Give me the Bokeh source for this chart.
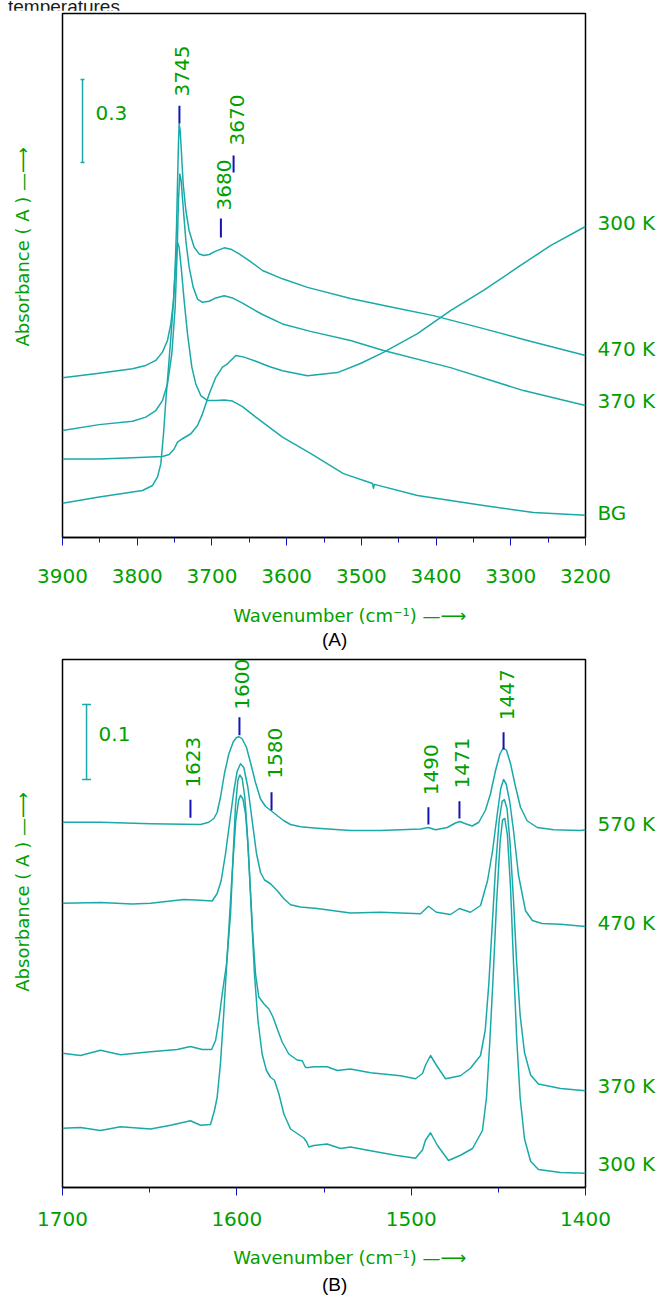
from bokeh.plotting import figure
from bokeh.models import Range1d, SingleIntervalTicker, FixedTicker, Label, Div, LinearAxis
from bokeh.layouts import column
from bokeh.embed import file_html
from bokeh.resources import INLINE

# ---------------- Panel A data (wavenumber / cm-1, absorbance) ----------------
a_wn_470 = [3900, 3850.9, 3806.3, 3788.5, 3775.1, 3766.2, 3759.5, 3755.0, 3751.4, 3749.2, 3747.4, 3746.1,
            3744.8, 3743.9, 3742.5, 3740.7, 3738.5, 3734.9, 3730.5, 3723.8, 3717.1, 3710.4, 3703.7,
            3694.8, 3683.6, 3674.7, 3663.6, 3650.2, 3632.3, 3605.6, 3572.1, 3514.5, 3457.0, 3403.5,
            3336.5, 3277.7, 3200]
a_ab_470 = [0.577, 0.594, 0.610, 0.622, 0.640, 0.670, 0.712, 0.772, 0.857, 0.977, 1.122, 1.278,
            1.423, 1.495, 1.471, 1.387, 1.278, 1.182, 1.109, 1.049, 1.025, 1.019, 1.023,
            1.035, 1.047, 1.042, 1.025, 1.001, 0.965, 0.935, 0.904, 0.864, 0.831, 0.802,
            0.755, 0.712, 0.658]

a_wn_370 = [3900, 3850.9, 3806.3, 3788.5, 3775.1, 3766.2, 3759.5, 3753.7, 3749.2, 3746.5, 3744.8, 3743.0,
            3741.2, 3738.5, 3734.9, 3730.5, 3725.1, 3719.3, 3712.6, 3703.7, 3694.8, 3683.6, 3672.5,
            3659.1, 3645.7, 3632.3, 3605.6, 3568.1, 3514.5, 3470.4, 3380.7, 3283.0, 3200]
a_ab_370 = [0.387, 0.408, 0.420, 0.435, 0.459, 0.495, 0.555, 0.664, 0.832, 1.037, 1.218, 1.314,
            1.290, 1.194, 1.073, 0.977, 0.905, 0.862, 0.850, 0.854, 0.866, 0.874, 0.866,
            0.847, 0.826, 0.806, 0.772, 0.745, 0.712, 0.676, 0.614, 0.531, 0.477]

a_wn_300 = [3900, 3850.9, 3806.3, 3766.2, 3757.2, 3750.6, 3746.1, 3739.4, 3728.2, 3719.3, 3712.6, 3703.7,
            3694.8, 3685.9, 3679.2, 3668.0, 3656.9, 3641.3, 3623.4, 3605.6, 3572.1, 3531.9, 3501.2,
            3470.4, 3424.9, 3380.7, 3336.5, 3291.0, 3246.9, 3200]
a_ab_300 = [0.284, 0.284, 0.288, 0.293, 0.300, 0.320, 0.345, 0.357, 0.375, 0.405, 0.447, 0.519,
            0.579, 0.616, 0.628, 0.658, 0.652, 0.637, 0.618, 0.603, 0.585, 0.596, 0.629,
            0.669, 0.737, 0.820, 0.893, 0.976, 1.055, 1.124]

a_wn_bg = [3900, 3850.9, 3792.9, 3779.5, 3772.9, 3768.4, 3764.8, 3761.7, 3758.1, 3754.6, 3751.4, 3748.3,
           3746.1, 3743.9, 3741.2, 3737.2, 3732.7, 3726.9, 3721.6, 3714.9, 3705.9, 3694.8, 3683.6,
           3672.5, 3659.1, 3641.3, 3623.4, 3605.6, 3568.1, 3524.0, 3485.0, 3483.8, 3482.5, 3424.9,
           3336.5, 3269.6, 3200]
a_ab_bg = [0.124, 0.146, 0.170, 0.188, 0.218, 0.266, 0.375, 0.495, 0.616, 0.736, 0.857, 1.001,
           1.067, 1.049, 0.977, 0.857, 0.736, 0.616, 0.555, 0.513, 0.495, 0.495, 0.497,
           0.493, 0.473, 0.435, 0.399, 0.363, 0.304, 0.231, 0.195, 0.178, 0.192, 0.152,
           0.116, 0.090, 0.080]

a_series = [("300 K", a_wn_300, a_ab_300), ("470 K", a_wn_470, a_ab_470),
            ("370 K", a_wn_370, a_ab_370), ("BG", a_wn_bg, a_ab_bg)]
a_end_labels = ["300 K", "470 K", "370 K", "BG"]
a_end_label_y = [1.135, 0.683, 0.495, 0.087]

a_peak_labels = ["3745", "3680", "3670"]
a_peak_x = [3743.5, 3688, 3671]
a_peak_y0 = [1.496, 1.084, 1.319]
a_peak_y1 = [1.561, 1.153, 1.381]
a_peak_ly = [1.594, 1.182, 1.417]

# ---------------- Panel B data ----------------
b_wn_570 = [1700, 1678.2, 1649.5, 1620.8, 1616.1, 1613.2, 1611.3, 1609.4, 1607.1, 1604.6, 1602.1, 1600.2,
            1598.7, 1596.9, 1594.5, 1592.2, 1589.3, 1586.4, 1583.5, 1580.7, 1576.9, 1573.0, 1569.2,
            1563.5, 1553.9, 1534.8, 1517.6, 1506.1, 1494.6, 1490.2, 1486.0, 1479.3, 1474.6, 1472.1,
            1468.8, 1465.0, 1461.2, 1457.4, 1454.5, 1451.6, 1449.1, 1447.2, 1445.3, 1443.0, 1440.1,
            1437.3, 1433.5, 1427.7, 1418.2, 1402.9, 1400]
b_ab_570 = [0.487, 0.487, 0.485, 0.484, 0.487, 0.492, 0.500, 0.520, 0.552, 0.578, 0.594, 0.600,
            0.601, 0.598, 0.587, 0.567, 0.540, 0.518, 0.508, 0.503, 0.496, 0.489, 0.484,
            0.481, 0.479, 0.476, 0.476, 0.477, 0.478, 0.480, 0.477, 0.480, 0.486, 0.488,
            0.485, 0.482, 0.487, 0.503, 0.525, 0.556, 0.578, 0.586, 0.583, 0.565, 0.534,
            0.507, 0.489, 0.480, 0.477, 0.476, 0.477]

b_wn_470 = [1700, 1678.2, 1660.0, 1649.5, 1630.4, 1620.8, 1614.1, 1611.3, 1609.0, 1606.5, 1604.0, 1601.7,
            1599.8, 1597.9, 1596.0, 1593.7, 1591.2, 1588.7, 1586.4, 1584.1, 1580.7, 1576.9, 1573.0,
            1569.2, 1563.5, 1553.9, 1534.8, 1517.6, 1494.6, 1490.1, 1485.5, 1477.4, 1472.3, 1466.0,
            1460.2, 1456.2, 1453.3, 1450.5, 1448.6, 1447.0, 1445.5, 1443.5, 1441.3, 1438.4, 1434.4,
            1430.5, 1425.0, 1414.3, 1400]
b_ab_470 = [0.379, 0.380, 0.378, 0.379, 0.384, 0.383, 0.382, 0.392, 0.409, 0.445, 0.489, 0.529,
            0.555, 0.565, 0.560, 0.534, 0.489, 0.445, 0.420, 0.410, 0.405, 0.396, 0.385,
            0.377, 0.374, 0.372, 0.366, 0.367, 0.365, 0.375, 0.367, 0.364, 0.372, 0.367,
            0.376, 0.409, 0.449, 0.500, 0.532, 0.544, 0.538, 0.515, 0.476, 0.416, 0.369,
            0.356, 0.352, 0.351, 0.348]

b_wn_370 = [1700, 1689.7, 1678.2, 1666.7, 1649.5, 1634.2, 1626.6, 1619.9, 1614.5, 1612.2, 1610.3, 1608.4,
            1605.9, 1603.6, 1602.1, 1600.8, 1599.4, 1598.3, 1596.9, 1595.4, 1594.1, 1592.5, 1591.0,
            1589.3, 1587.4, 1584.5, 1581.6, 1579.2, 1576.9, 1574.0, 1570.2, 1565.4, 1562.5, 1560.6,
            1558.7, 1555.8, 1548.2, 1542.4, 1534.8, 1523.3, 1506.1, 1497.5, 1493.5, 1491.8, 1488.9,
            1485.5, 1480.3, 1471.7, 1466.0, 1460.2, 1457.5, 1455.5, 1453.5, 1451.5, 1449.5, 1447.8,
            1446.5, 1445.0, 1443.3, 1441.3, 1439.5, 1437.5, 1435.0, 1431.5, 1427.0, 1414.3, 1400]
b_ab_370 = [0.179, 0.176, 0.183, 0.177, 0.181, 0.184, 0.188, 0.184, 0.184, 0.196, 0.223, 0.258,
            0.298, 0.365, 0.445, 0.507, 0.543, 0.550, 0.545, 0.520, 0.476, 0.409, 0.343,
            0.285, 0.254, 0.245, 0.238, 0.227, 0.212, 0.194, 0.178, 0.170, 0.169, 0.160,
            0.160, 0.161, 0.161, 0.156, 0.158, 0.153, 0.149, 0.145, 0.152, 0.163, 0.176,
            0.163, 0.145, 0.149, 0.159, 0.176, 0.210, 0.270, 0.350, 0.430, 0.490, 0.515,
            0.517, 0.505, 0.460, 0.383, 0.300, 0.230, 0.180, 0.150, 0.138, 0.132, 0.129]

b_wn_300 = [1700, 1689.7, 1678.2, 1666.7, 1649.5, 1638.0, 1626.6, 1620.8, 1615.1, 1612.8, 1611.3, 1609.4,
            1607.5, 1605.2, 1602.7, 1600.6, 1599.0, 1597.9, 1596.5, 1595.0, 1593.5, 1591.8, 1589.9,
            1587.9, 1585.5, 1583.0, 1580.7, 1578.4, 1575.9, 1573.0, 1569.2, 1565.4, 1561.6, 1560.0,
            1558.7, 1555.8, 1548.2, 1540.5, 1534.8, 1523.3, 1509.0, 1497.5, 1493.5, 1491.8, 1488.9,
            1484.9, 1478.6, 1471.7, 1464.8, 1459.1, 1456.8, 1455.0, 1453.0, 1451.0, 1449.0, 1447.6,
            1446.3, 1444.8, 1443.0, 1441.3, 1439.5, 1437.5, 1435.0, 1431.5, 1427.0, 1414.3, 1400]
b_ab_300 = [0.079, 0.080, 0.076, 0.081, 0.078, 0.083, 0.089, 0.083, 0.084, 0.103, 0.120, 0.165,
            0.232, 0.321, 0.418, 0.489, 0.516, 0.523, 0.518, 0.498, 0.454, 0.374, 0.285,
            0.223, 0.178, 0.156, 0.147, 0.143, 0.125, 0.098, 0.078, 0.072, 0.066, 0.061,
            0.054, 0.056, 0.058, 0.052, 0.054, 0.049, 0.043, 0.039, 0.050, 0.063, 0.073,
            0.056, 0.036, 0.043, 0.052, 0.076, 0.120, 0.190, 0.280, 0.380, 0.460, 0.490,
            0.492, 0.470, 0.400, 0.300, 0.200, 0.120, 0.065, 0.035, 0.024, 0.020, 0.019]

b_series = [("570 K", b_wn_570, b_ab_570), ("470 K", b_wn_470, b_ab_470),
            ("370 K", b_wn_370, b_ab_370), ("300 K", b_wn_300, b_ab_300)]
b_end_labels = ["570 K", "470 K", "370 K", "300 K"]
b_end_label_y = [0.485, 0.353, 0.136, 0.031]

b_peak_labels = ["1623", "1600", "1580", "1490", "1471", "1447"]
b_peak_x = [1626.6, 1598.5, 1580.1, 1490.1, 1472.3, 1447.0]
b_peak_y0 = [0.493, 0.603, 0.503, 0.484, 0.492, 0.584]
b_peak_y1 = [0.517, 0.627, 0.527, 0.507, 0.515, 0.607]
b_peak_ly = [0.533, 0.637, 0.545, 0.523, 0.532, 0.623]

# ---------------- styling ----------------
GREEN = "#00a000"
TEAL = "#1aa9a9"
BLUE = "#1414b4"
FONT = "DejaVu Sans"
NB = "\u00a0"
ARROW = "\u2014\u27f6"


def make_panel(x0, x1, ymax, height, border_top, border_bottom, series, end_labels, end_y,
               pk_lab, pk_x, pk_y0, pk_y1, pk_ly, bar_x, bar_y0, bar_y1, bar_cap, bar_text,
               bar_text_x, bar_text_y, ylab_pad, panel_text, label_standoff, title_standoff,
               panel_standoff):
    p = figure(width=663, height=height, x_range=Range1d(x0, x1), y_range=Range1d(0, ymax),
               output_backend="svg", toolbar_location=None, min_border_left=62,
               min_border_right=78, min_border_top=border_top, min_border_bottom=border_bottom)
    p.xgrid.visible = False
    p.ygrid.visible = False
    p.outline_line_color = "black"
    p.outline_line_width = 1.5
    p.background_fill_color = "white"
    p.border_fill_color = "white"

    # bottom axis
    ax = p.xaxis[0]
    ax.ticker = SingleIntervalTicker(interval=100, num_minor_ticks=2)
    ax.axis_line_color = "black"
    ax.axis_line_width = 1.5
    ax.major_tick_line_color = BLUE
    ax.minor_tick_line_color = BLUE
    ax.major_tick_out = 8
    ax.major_tick_in = 0
    ax.minor_tick_out = 5
    ax.minor_tick_in = 0
    ax.major_label_text_font = FONT
    ax.major_label_text_font_size = "20px"
    ax.major_label_text_color = GREEN
    ax.major_label_standoff = label_standoff
    ax.axis_label = NB * 9 + "Wavenumber (cm\u207b\u00b9) " + ARROW
    ax.axis_label_text_font = FONT
    ax.axis_label_text_font_size = "18px"
    ax.axis_label_text_font_style = "normal"
    ax.axis_label_text_color = GREEN
    ax.axis_label_standoff = title_standoff

    # panel letter as a second, bare bottom axis
    pax = LinearAxis(ticker=FixedTicker(ticks=[]), axis_line_color=None,
                     major_tick_line_color=None, minor_tick_line_color=None,
                     major_label_standoff=0, axis_label=NB * 4 + panel_text,
                     axis_label_text_font="Liberation Sans", axis_label_text_font_size="19px",
                     axis_label_text_font_style="normal", axis_label_text_color="black",
                     axis_label_standoff=panel_standoff)
    p.add_layout(pax, "below")

    # left axis: only its title
    ly = p.yaxis[0]
    ly.ticker = FixedTicker(ticks=[])
    ly.axis_line_color = None
    ly.major_tick_line_color = None
    ly.minor_tick_line_color = None
    ly.major_label_standoff = 0
    ly.axis_label = NB * ylab_pad + "Absorbance ( A ) " + ARROW
    ly.axis_label_text_font = FONT
    ly.axis_label_text_font_size = "18px"
    ly.axis_label_text_font_style = "normal"
    ly.axis_label_text_color = GREEN
    ly.axis_label_standoff = 30

    # right axis: curve names at their end levels
    rax = LinearAxis(ticker=FixedTicker(ticks=end_y),
                     major_label_overrides={float(y): lab for y, lab in zip(end_y, end_labels)},
                     axis_line_color=None, major_tick_line_color=None, minor_tick_line_color=None,
                     major_tick_out=0, major_tick_in=0, minor_tick_out=0, minor_tick_in=0,
                     major_label_standoff=12, major_label_text_font=FONT,
                     major_label_text_font_size="20px", major_label_text_color=GREEN)
    p.add_layout(rax, "right")

    for name, xs, ys in series:
        p.line(xs, ys, line_color=TEAL, line_width=1.5, line_join="round")

    # peak markers
    p.segment(x0=pk_x, y0=pk_y0, x1=pk_x, y1=pk_y1, line_color=BLUE, line_width=2)
    for lab, x, yl in zip(pk_lab, pk_x, pk_ly):
        p.add_layout(Label(x=x, y=yl, text=lab, angle=90, angle_units="deg", x_offset=3,
                           text_align="left", text_baseline="middle", text_font=FONT,
                           text_font_size="20px", text_color=GREEN))

    # scale bar
    p.segment(x0=[bar_x], y0=[bar_y0], x1=[bar_x], y1=[bar_y1], line_color=TEAL, line_width=1.5)
    p.scatter([bar_x, bar_x], [bar_y0, bar_y1], marker="dash", size=bar_cap, line_color=TEAL,
              line_width=1.5)
    p.add_layout(Label(x=bar_text_x, y=bar_text_y, text=bar_text, text_align="left",
                       text_baseline="middle", text_font=FONT, text_font_size="20px",
                       text_color=GREEN))
    return p


pa = make_panel(3900, 3200, 1.894, 646, 3, 119, a_series, a_end_labels, a_end_label_y,
                a_peak_labels, a_peak_x, a_peak_y0, a_peak_y1, a_peak_ly,
                3873.2, 1.355, 1.655, 4, "0.3", 3855.8, 1.536, 10,
                "(A)", 23, 19, 0)

pb = make_panel(1700, 1400, 0.704, 641, 3, 110, b_series, b_end_labels, b_end_label_y,
                b_peak_labels, b_peak_x, b_peak_y0, b_peak_y1, b_peak_ly,
                1686.2, 0.544, 0.644, 9, "0.1", 1679.3, 0.605, 11,
                "(B)", 16, 18, 3)

cap = Div(text="temperatures.", width=648, height=0,
          styles={"position": "relative", "top": "-12px", "left": "3px",
                  "font-family": "'Liberation Sans', Arial, sans-serif", "font-size": "19px",
                  "color": "#1a1a1a", "white-space": "nowrap", "overflow": "visible"})

layout = column(cap, pa, pb, spacing=0)

open("out.html", "w").write(file_html(layout, INLINE))
